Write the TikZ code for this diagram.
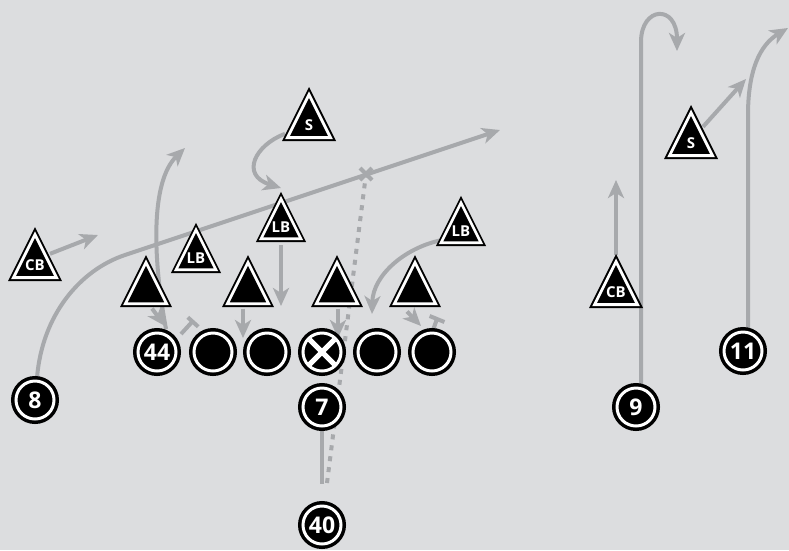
\documentclass[tikz,border=0pt]{standalone}
\usepackage{fontspec}
\newfontfamily\playfont{Open Sans}
\usetikzlibrary{arrows.meta,calc}
\definecolor{field}{RGB}{220,221,223}
\definecolor{routegray}{RGB}{167,169,172}
\pgfdeclarelayer{bg}
\pgfdeclarelayer{routes}
\pgfsetlayers{bg,routes,main}
\tikzset{
  tri scale/.store in=\trisc, tri scale=1,
  % defender: black triangle with a white inner band, label at the incentre
  tri/.pic={
    \begin{scope}[scale=\trisc]
      \fill[black] (-27,16.7) -- (0,-37.3) -- (27,16.7) -- cycle;
      \fill[white,scale=0.88] (-27,16.7) -- (0,-37.3) -- (27,16.7) -- cycle;
      \fill[black,scale=0.70] (-27,16.7) -- (0,-37.3) -- (27,16.7) -- cycle;
    \end{scope}
    \node[trilabel] (-c) at (0,0.5) {#1};
  },
  trilabel/.style={inner sep=0pt, text=white,
    font=\playfont\bfseries\fontsize{15}{15}\selectfont},
  player/.style={circle, fill=black, draw=black, line width=3.5pt,
    double=white, double distance=3pt, minimum size=38pt, inner sep=0pt,
    text=white, font=\playfont\bfseries\fontsize{23}{23}\selectfont},
  route/.style={draw=routegray, line width=4pt},
  arr/.style={-{Stealth[length=18pt,width=16pt,inset=5pt]}},
  blockbar/.style={draw=routegray, line width=4pt},
  pass/.style={draw=routegray, line width=4pt, dash pattern=on 5pt off 6pt},
}
\begin{document}
\begin{tikzpicture}[x=1pt,y=-1pt]
\begin{pgfonlayer}{bg}
  \fill[field] (0,0) rectangle (789,550);
\end{pgfonlayer}
\useasboundingbox (0,0) rectangle (789,550);

% ---------- offense ----------
\node[player] (n44) at (157,352) {44};
\node[player] (g1)  at (213,352) {};
\node[player] (g2)  at (267,352) {};
\node[player] (ctr) at (322,352) {};
\draw[white, line width=5pt]
  ($(ctr)+(-12.5,-12.5)$) -- ($(ctr)+(12.5,12.5)$)
  ($(ctr)+(-12.5,12.5)$) -- ($(ctr)+(12.5,-12.5)$);
\node[player] (g3)  at (377,352) {};
\node[player] (g4)  at (432,352) {};
\node[player] (n8)  at (35,400)  {8};
\node[player] (n7)  at (322,407) {7};
\node[player] (n40) at (322,525) {40};
\node[player] (n9)  at (636,407) {9};
\node[player] (n11) at (743,351) {11};

% ---------- defense ----------
\pic (cb1) at (35,264.3)  {tri=CB};
\pic (s1)  at (309,124.3) {tri=S};
\pic (s2)  at (691,142.3) {tri=S};
\pic (cb2) at (616,291.3) {tri=CB};
\pic[tri scale=0.93] (lb1) at (196,257.5) {tri=LB};
\pic[tri scale=0.93] (lb2) at (281,226.5) {tri=LB};
\pic[tri scale=0.93] (lb3) at (461,230.5) {tri=LB};
\pic[tri scale=0.963] (dl1) at (146,291) {tri=};
\pic[tri scale=0.963] (dl2) at (248,291) {tri=};
\pic[tri scale=0.963] (dl3) at (337,291) {tri=};
\pic[tri scale=0.963] (dl4) at (415,291) {tri=};

% free ends of the routes
\coordinate (r8end)  at (500,130);
\coordinate (xpt)    at (366,174);
\coordinate (drop)   at (322,484);
\coordinate (release) at (327,483);
\coordinate (r44end) at (185,148);
\coordinate (r9end)  at (677,51);
\coordinate (r11end) at (788,28);
\coordinate (cb1end) at (98,235);
\coordinate (cb2end) at (616,180);
\coordinate (s2end)  at (746,79);

\begin{pgfonlayer}{routes}
  % receiver 8: arc into a long crossing route
  \draw[route, arr] ($(n8)+(2,-22)$) .. controls (42,315) and (80,270) .. (125,255) -- (r8end);
  \draw[route] ($(xpt)+(-6,-6)$) -- ($(xpt)+(6,6)$) ($(xpt)+(-6,6)$) -- ($(xpt)+(6,-6)$);
  % quarterback drop and the throw
  \draw[route] (n7) -- (drop);
  \draw[pass] (release) -- (xpt);
  % back 44 release
  \draw[route, arr] ($(n44)+(9,-23)$) .. controls (153,260) and (150,182) .. (r44end);
  % line blocks
  \draw[blockbar] ($(n44)+(24,-18)$) -- ($(n44)+(35,-30)$);
  \draw[blockbar] ($(n44)+(30.8,-34.7)$) -- ($(n44)+(41.2,-25.3)$);
  \draw[blockbar] ($(g4)+(1,-22)$) -- ($(g4)+(5,-33)$);
  \draw[blockbar] ($(g4)+(-2.4,-36)$) -- ($(g4)+(12.4,-30)$);
  % defensive line and linebacker reads
  \draw[route, arr] ($(dl1-c)+(6,17)$) -- ($(n44)+(8,-26)$);
  \draw[route, arr] ($(dl2-c)+(-5,17)$) -- ($(g2)+(-24,-14)$);
  \draw[route, arr] ($(lb2-c)+(0,18)$) -- ($(lb2-c)+(0,79)$);
  \draw[route, arr] ($(dl3-c)+(1,17)$) -- ($(ctr)+(16,-14)$);
  \draw[route, arr] ($(lb3-c)+(-21,9.5)$) .. controls (405,248) and (373,275) .. ($(g3)+(-5,-38)$);
  \draw[route, arr] ($(dl4-c)+(-8,20)$) -- ($(g4)+(-11,-26)$);
  % secondary
  \draw[route, arr] ($(cb1-c)+(15,-11)$) -- (cb1end);
  \draw[route, arr] ($(cb2-c)+(0,-37)$) -- (cb2end);
  \draw[route, arr] ($(s1-c)+(-24,9)$) .. controls (255,145) and (240,175) .. ($(lb2-c)+(0,-39)$);
  \draw[route, arr] ($(s2-c)+(12,-16)$) -- (s2end);
  % wide receivers
  \draw[route, arr] ($(n9)+(5,-22)$) -- (641,42) .. controls (641,6) and (677,4) .. (r9end);
  \draw[route, arr] ($(n11)+(5,-22)$) -- (748,115) .. controls (748,70) and (760,45) .. (r11end);
\end{pgfonlayer}
\end{tikzpicture}
\end{document}
